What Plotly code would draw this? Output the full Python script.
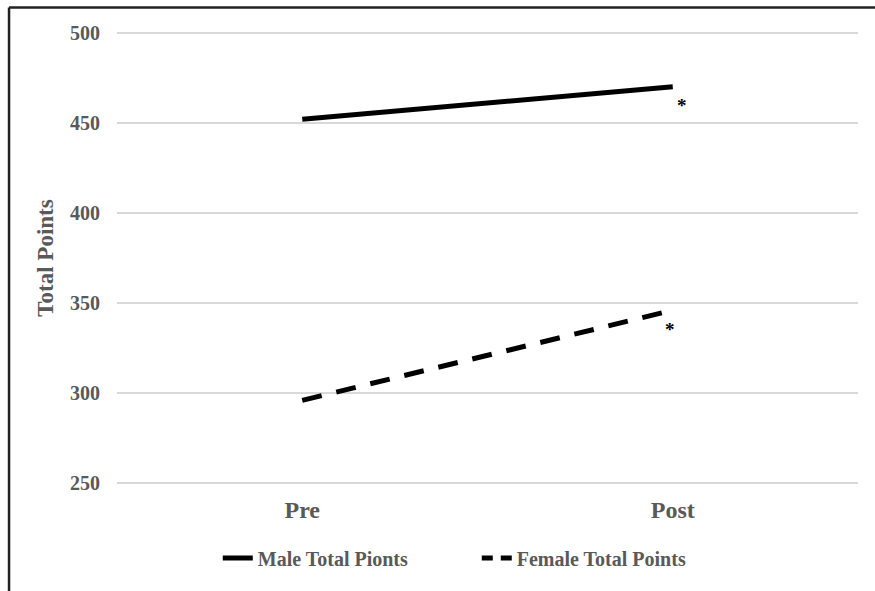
import plotly.graph_objects as go

categories = ["Pre", "Post"]
male_total = [452, 470]
female_total = [296, 346]
y_ticks = [250, 300, 350, 400, 450, 500]

FONT = "Liberation Serif"
GRAY = "#595959"

fig = go.Figure()
fig.add_trace(go.Scatter(
    x=categories, y=male_total, mode="lines", name="<b>Male Total Pionts</b>",
    line=dict(color="black", width=5)))
fig.add_trace(go.Scatter(
    x=categories, y=female_total, mode="lines", showlegend=False,
    line=dict(color="black", width=5, dash="20px,15px")))
# legend entry for the dashed series (shorter dashes to fit the legend swatch)
fig.add_trace(go.Scatter(
    x=[None], y=[None], mode="lines", name="<b>Female Total Points</b>",
    line=dict(color="black", width=5, dash="11px,8px")))

fig.add_annotation(x="Post", y=male_total[1], text="<b>*</b>", showarrow=False,
                   xshift=9, yshift=-19, font=dict(family=FONT, size=19, color="black"))
fig.add_annotation(x="Post", y=female_total[1], text="<b>*</b>", showarrow=False,
                   xshift=-3, yshift=-19, font=dict(family=FONT, size=19, color="black"))

# outer frame (left and top edges visible)
fig.add_shape(type="line", xref="paper", yref="paper",
              x0=-0.1457, x1=-0.1457, y0=-0.6, y1=1.052,
              line=dict(color="#222222", width=2.5), layer="above")
fig.add_shape(type="line", xref="paper", yref="paper",
              x0=-0.1457, x1=1.2, y0=1.052, y1=1.052,
              line=dict(color="#222222", width=2.5), layer="above")

fig.update_layout(
    width=875, height=591,
    margin=dict(l=117, r=17, t=31, b=106),
    paper_bgcolor="white", plot_bgcolor="white",
    font=dict(family=FONT, color=GRAY),
    showlegend=True,
    legend=dict(orientation="h", x=0.136, xanchor="left", y=-0.161, yanchor="middle",
                font=dict(family=FONT, size=20, color=GRAY),
                entrywidth=214, entrywidthmode="pixels",
                traceorder="normal"),
    xaxis=dict(type="category", range=[-0.5, 1.5], showgrid=False, zeroline=False,
               showline=False, ticks="", ticklabelstandoff=8,
               tickfont=dict(family=FONT, size=24, color=GRAY),
               tickvals=categories, ticktext=["<b>%s</b>" % c for c in categories]),
    yaxis=dict(range=[249, 501], tickvals=y_ticks,
               ticktext=["<b>%d</b>" % v for v in y_ticks],
               showgrid=True, gridcolor="#d9d9d9", gridwidth=2, zeroline=False,
               showline=False, ticks="", ticklabelstandoff=16,
               tickfont=dict(family=FONT, size=20, color=GRAY),
               title=dict(text="<b>Total Points</b>", standoff=9,
                          font=dict(family=FONT, size=23, color=GRAY))),
)

fig.write_html("out.html", config={"displayModeBar": False},
               post_script="document.body.style.margin='0px';document.body.style.padding='0px';")
